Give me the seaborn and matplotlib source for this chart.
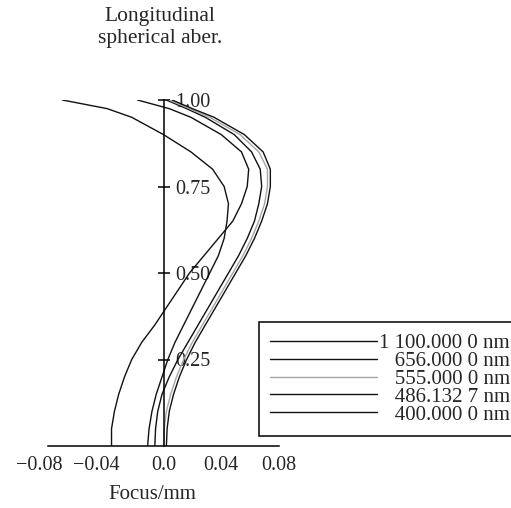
import matplotlib
matplotlib.use("Agg")
import matplotlib.pyplot as plt
from matplotlib.transforms import ScaledTranslation
import seaborn as sns
import pandas as pd

# normalised pupil coordinate (shared by every wavelength)
pupil = [0.0, 0.05, 0.10, 0.15, 0.20, 0.25, 0.30, 0.35, 0.40, 0.45, 0.50,
         0.55, 0.60, 0.65, 0.70, 0.75, 0.80, 0.85, 0.90, 0.95, 0.975, 1.0]

# focus shift (mm), one list per wavelength
focus_1100 = [-0.036, -0.036, -0.034, -0.031, -0.027, -0.022, -0.015, -0.006, 0.002, 0.010, 0.018,
              0.028, 0.038, 0.048, 0.054, 0.058, 0.059, 0.054, 0.040, 0.019, 0.004, -0.018]
focus_656 = [-0.006, -0.0055, -0.004, -0.001, 0.004, 0.010, 0.017, 0.024, 0.031, 0.038, 0.045,
             0.052, 0.058, 0.063, 0.066, 0.068, 0.067, 0.061, 0.049, 0.029, 0.016, 0.002]
focus_555 = [0.000, 0.0005, 0.002, 0.005, 0.009, 0.014, 0.020, 0.027, 0.034, 0.041, 0.048,
             0.055, 0.061, 0.066, 0.070, 0.072, 0.072, 0.066, 0.053, 0.032, 0.018, 0.004]
focus_486 = [0.002, 0.0025, 0.004, 0.007, 0.011, 0.016, 0.022, 0.029, 0.036, 0.043, 0.050,
             0.057, 0.063, 0.068, 0.072, 0.074, 0.074, 0.069, 0.056, 0.035, 0.020, 0.006]
focus_400 = [-0.011, -0.010, -0.008, -0.005, -0.001, 0.003, 0.008, 0.014, 0.020, 0.026, 0.032,
             0.038, 0.042, 0.044, 0.045, 0.042, 0.034, 0.019, 0.000, -0.022, -0.039, -0.070]

wavelengths = ["1 100.000 0 nm", "656.000 0 nm", "555.000 0 nm", "486.132 7 nm", "400.000 0 nm"]
line_colors = ["#111111", "#111111", "#a6a6a6", "#111111", "#111111"]

xticks = [-0.08, -0.04, 0.0, 0.04, 0.08]
xtick_labels = ["\u22120.08", "\u22120.04", "0.0", "0.04", "0.08"]
yticks = [0.25, 0.50, 0.75, 1.00]
ytick_labels = ["0.25", "0.50", "0.75", "1.00"]

rows = []
for name, vals in zip(wavelengths, [focus_1100, focus_656, focus_555, focus_486, focus_400]):
    for p, f in zip(pupil, vals):
        rows.append({"wavelength": name, "pupil": p, "focus": f})
df = pd.DataFrame(rows)

sns.set_style("white")
plt.rcParams["font.family"] = ["Liberation Serif", "DejaVu Serif"]

fig = plt.figure(figsize=(5.11, 5.08), dpi=100)
ax = fig.add_axes([48 / 511, 62 / 508, 231 / 511, 346 / 508])

sns.lineplot(data=df, x="focus", y="pupil", hue="wavelength", hue_order=wavelengths,
             palette=line_colors, orient="y", estimator=None, linewidth=1.0,
             legend=False, ax=ax)

ax.set_xlim(-0.08, 0.08)
ax.set_ylim(0, 1)

# axes drawn through the origin, like the optical design plot
ax.spines["top"].set_visible(False)
ax.spines["left"].set_position(("data", 0))
ax.spines["right"].set_position(("data", 0))
ax.spines["right"].set_visible(False)
ax.spines["bottom"].set_bounds(-0.08, 0.08)
for side in ["left", "bottom"]:
    ax.spines[side].set_color("black")
    ax.spines[side].set_linewidth(1.1)

ax.set_xticks(xticks)
ax.set_xticklabels(xtick_labels)
ax.set_yticks(yticks)
ax.set_yticklabels(ytick_labels)
ax.tick_params(axis="x", direction="in", length=7, width=1.1, pad=7,
               labelsize=14.5, color="black")
ax.tick_params(axis="y", direction="inout", length=9, width=1.1, pad=4,
               left=True, right=False, labelleft=False, labelright=True,
               labelsize=14.5, color="black")
ax.grid(False)

# negative labels sit a little to the left in the original
for lbl in ax.get_xticklabels()[:2]:
    lbl.set_transform(lbl.get_transform() + ScaledTranslation(-0.09, 0, fig.dpi_scale_trans))

ax.set_xlabel("Focus/mm", fontsize=15)
ax.xaxis.set_label_coords((152.5 - 48) / 231, -39 / 346)
ax.set_ylabel("")

fig.text(160 / 511, 1 - 7 / 508, "Longitudinal\nspherical aber.",
         ha="center", va="top", fontsize=15.5, linespacing=1.25)

# labels are right aligned in the original; pad the shorter ones by the width of "1 "
padded = [wavelengths[0]] + ["\u2007 " + w for w in wavelengths[1:]]
leg = fig.legend(handles=ax.lines[:5], labels=padded, loc="upper left",
                 bbox_to_anchor=(259 / 511, 1 - 322 / 508), borderaxespad=0,
                 borderpad=0.55, fontsize=15, handlelength=5.1, handletextpad=0.1,
                 labelspacing=-0.08, fancybox=False, framealpha=1, edgecolor="black")
leg.get_frame().set_linewidth(1.1)

fig.savefig("out.png", dpi=100)
